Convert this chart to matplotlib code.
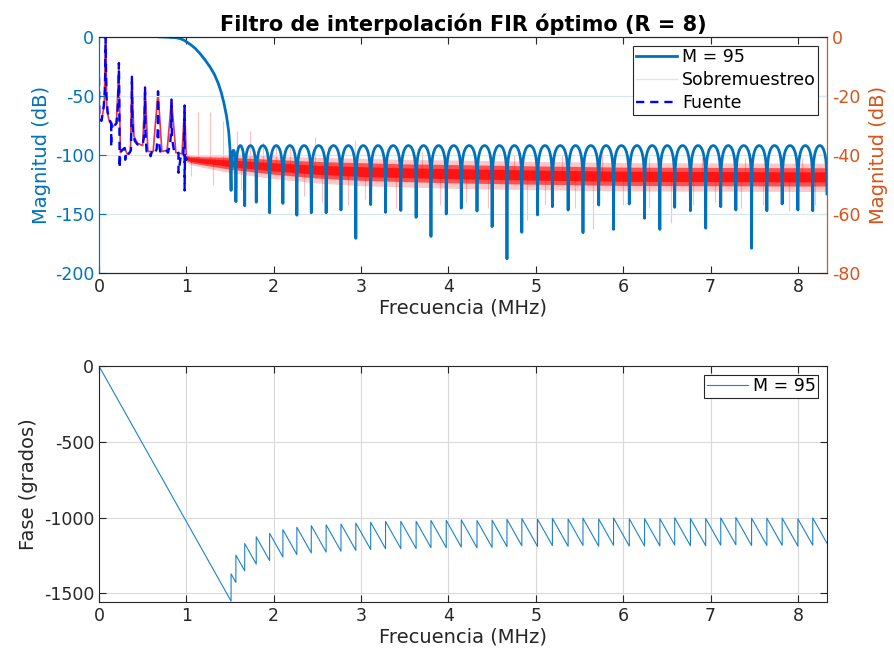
import numpy as np
import matplotlib
matplotlib.use("Agg")
import matplotlib.pyplot as plt
from matplotlib.lines import Line2D

plt.rcParams['font.family'] = 'DejaVu Sans'
plt.rcParams['axes.unicode_minus'] = False

BLUE = '#0072BD'
ORANGE = '#D95319'
GRAY = '#262626'

# --- filter magnitude (M = 95), dB -------------------------------------
# passband ripple sits just above 0 dB, then the transition band
pass_f = [0.0, 0.3, 0.6, 0.68, 0.80, 0.88, 0.93, 0.97, 1.00, 1.05, 1.10, 1.154,
          1.21, 1.268, 1.32, 1.364, 1.40, 1.43, 1.46, 1.485, 1.50, 1.512]
pass_db = [1.5, 1.5, 1.2, 0.2, -0.2, -0.6, -1.3, -2.6, -4.0, -6.5, -9.5, -13.8,
           -19.0, -25.0, -31.5, -39.0, -47.0, -56.0, -67.0, -80.0, -95.0, -130.0]

# stopband nulls (MHz) and their depths (dB)
null_f = [1.512, 1.567, 1.668, 1.80, 1.953, 2.105, 2.265, 2.43, 2.60, 2.77,
          2.94, 3.11, 3.28, 3.455, 3.63, 3.80, 3.975, 4.147, 4.327, 4.50,
          4.67, 4.84, 5.02, 5.19, 5.37, 5.54, 5.72, 5.89, 6.07, 6.245,
          6.42, 6.59, 6.77, 6.945, 7.117, 7.29, 7.47, 7.645, 7.82, 8.00,
          8.17, 8.333]
null_db = [-130.0, -139.5, -143.0, -140.0, -149.0, -141.0, -151.0, -149.0, -149.0, -146.6,
           -170.6, -142.0, -148.6, -147.0, -152.8, -169.0, -150.0, -145.0, -147.5, -160.7,
           -188.0, -165.5, -150.8, -143.8, -146.6, -165.8, -142.4, -163.0, -141.5, -153.6,
           -163.0, -144.3, -147.2, -162.0, -143.8, -146.6, -179.0, -147.2, -141.5, -146.6,
           -147.2, -133.0]
# ripple level of each stopband lobe
lobe_peak = [-96.0] + [-92.0] * (len(null_f) - 2)

# --- source spectrum (Fuente), dB on the left axis ---------------------
fuente_f = [0.0, 0.004, 0.03, 0.055, 0.068, 0.074, 0.076, 0.078, 0.085, 0.10,
            0.12, 0.14, 0.14, 0.14, 0.17, 0.20, 0.215, 0.224, 0.228, 0.232,
            0.235, 0.235, 0.245, 0.26, 0.28, 0.295, 0.30, 0.30, 0.31, 0.325,
            0.35, 0.365, 0.373, 0.377, 0.381, 0.39, 0.41, 0.44, 0.47, 0.50,
            0.515, 0.523, 0.527, 0.531, 0.545, 0.57, 0.59, 0.59, 0.61, 0.64,
            0.66, 0.672, 0.676, 0.68, 0.70, 0.73, 0.76, 0.79, 0.815, 0.826,
            0.83, 0.834, 0.86, 0.89, 0.91, 0.91, 0.94, 0.965, 0.976, 0.98,
            0.98, 0.984, 0.99, 1.0, 1.02]
fuente_db = [-34, -70, -71, -58, -45, -15, 0, -15, -50, -64,
             -70, -73, -93, -73, -76, -73, -60, -40, -22, -50,
             -90, -111, -98, -96, -95, -94, -97, -104, -98, -100,
             -98, -96, -70, -33, -70, -82, -88, -91, -91.5, -91,
             -85, -70, -42, -80, -97, -98, -97, -101, -96, -98,
             -95, -80, -46, -85, -97, -96, -95, -98, -90, -80,
             -53, -85, -97, -99, -98, -115, -99, -100, -85, -58,
             -130, -100, -104, -103, -105]

# --- oversampled signal (Sobremuestreo), dB on the right axis ----------
sobre_lo_f = [0.0, 0.004, 0.03, 0.06, 0.076, 0.09, 0.12, 0.16, 0.20, 0.228,
              0.245, 0.27, 0.29, 0.31, 0.33, 0.36, 0.377, 0.40, 0.44, 0.50,
              0.527, 0.56, 0.62, 0.676, 0.72, 0.78, 0.83, 0.88, 0.95, 0.98, 1.0]
sobre_lo_db = [-13.6, -28.0, -28.0, -23.2, 0.0, -24.8, -28.8, -30.4, -29.2, -8.8,
               -39.2, -38.4, -37.6, -38.8, -40.0, -38.8, -13.2, -33.6, -36.0, -36.8,
               -16.8, -38.8, -38.8, -18.4, -38.8, -38.4, -21.2, -39.2, -39.6, -23.2, -41.6]
# noise floor above 1 MHz: centre and spread
band_f = [1.0, 1.05, 1.2, 1.5, 2.0, 2.5, 3.0, 3.5, 4.0, 5.0, 6.0, 7.0, 8.0, 8.333]
band_mid = [-41.0, -41.5, -42.0, -42.8, -44.0, -45.0, -45.6, -46.0, -46.3, -46.8,
            -47.2, -47.3, -47.4, -47.4]
band_half = [0.9, 1.1, 1.4, 2.0, 2.5, 2.8, 3.0, 3.0, 3.1, 3.1, 3.1, 3.1, 3.1, 3.1]
# isolated image tones and dips poking out of the noise floor
spike_up_f = [1.134, 1.276, 1.42, 1.575, 1.727, 1.88, 2.03, 2.19, 2.47, 2.62,
              2.93, 3.3, 3.7, 4.3, 4.75, 5.3, 5.76, 6.3, 6.9, 7.4, 8.05]
spike_up_db = [-25.3, -25.3, -28.6, -32.0, -32.0, -35.5, -37.0, -36.0, -33.8, -37.0,
               -35.0, -39.0, -39.0, -38.5, -40.0, -40.0, -38.8, -40.5, -40.5, -41.0, -41.0]
spike_dn_f = [1.05, 1.3, 1.62, 2.1, 2.35, 2.55, 2.85, 3.05, 3.4, 3.62, 3.9, 4.2, 4.45,
              4.9, 5.1, 5.45, 5.65, 6.0, 6.3, 6.55, 6.8, 7.05, 7.35, 7.6, 7.9, 8.2]
spike_dn_db = [-47, -50, -52, -55, -54, -56, -57, -55, -58, -56, -57, -56, -58,
               -62, -57, -58, -65, -57, -58, -63, -57, -56, -58, -57, -59, -57]

# --- phase: linear phase of the 95th order filter, 180 deg jumps at zeros
phase_slope = -1026.0   # deg / MHz
phase_jump = 180.0
F_NYQ = 8.333

# build the magnitude curve: transition band, then one arch per lobe
mag_f = list(pass_f)
mag_db = list(pass_db)
for i in range(len(null_f) - 1):
    f0, f1 = null_f[i], null_f[i + 1]
    t = np.linspace(0, 1, 60)[1:]
    with np.errstate(divide='ignore'):
        y = lobe_peak[i] + 20 * np.log10(np.abs(np.sin(np.pi * t)))
    y[-1] = null_db[i + 1]
    mag_f.extend(f0 + t * (f1 - f0))
    mag_db.extend(y)

# unwrapped phase with the sign flips at each stopband zero
ph_f = [0.0]
ph_deg = [0.0]
k = 0
for fn in null_f:
    if fn >= F_NYQ:
        break
    ph_f += [fn, fn]
    ph_deg += [phase_slope * fn + phase_jump * k, phase_slope * fn + phase_jump * (k + 1)]
    k += 1
ph_f.append(F_NYQ)
ph_deg.append(phase_slope * F_NYQ + phase_jump * k)

fig = plt.figure(figsize=(8.95, 6.59), dpi=100)
ax = fig.add_axes([0.1106, 0.5857, 0.8134, 0.3581])
ax2 = ax.twinx()
ax.set_zorder(ax2.get_zorder() + 1)
ax.patch.set_visible(False)

# oversampled spectrum on the right axis (drawn underneath)
bm = np.array(band_mid)
bh = np.array(band_half)
ax2.fill_between(band_f, bm - 1.6 * bh, bm + 1.5 * bh, color='#FF0000', alpha=0.22, lw=0)
ax2.fill_between(band_f, bm - bh, bm + bh, color='#FF0000', alpha=0.6, lw=0)
ax2.fill_between(band_f, bm - 0.55 * bh, bm + 0.55 * bh, color='#FF0000', alpha=0.75, lw=0)
ax2.vlines(spike_up_f, np.interp(spike_up_f, band_f, band_mid), spike_up_db,
           color='#FF0000', alpha=0.25, lw=0.8)
ax2.vlines(spike_dn_f, np.interp(spike_dn_f, band_f, band_mid), spike_dn_db,
           color='#FF0000', alpha=0.25, lw=0.8)
ax2.plot(sobre_lo_f, sobre_lo_db, color='#E0102A', lw=1.2, alpha=0.85)

# filter response and source on the left axis
ax.plot(mag_f, mag_db, color=BLUE, lw=2.0)
ax.plot(fuente_f, fuente_db, color='#0000FF', lw=1.7, ls=(0, (3.5, 2.5)))

ax.set_xlim(0, F_NYQ)
ax.set_ylim(-200, 0)
ax2.set_ylim(-80, 0)
ax.set_yticks([-200, -150, -100, -50, 0])
ax2.set_yticks([-80, -60, -40, -20, 0])
ax.set_xticks(range(0, 9))

ax2.grid(True, axis='x', color='#DADADA', lw=0.8)
ax2.set_xticks(range(0, 9))
ax.grid(True, axis='y', color='#D6E6F2', lw=0.8)
ax.set_axisbelow(True)

ax.tick_params(axis='x', direction='in', top=True, colors=GRAY, labelsize=12.5, length=5)
ax.tick_params(axis='y', direction='in', colors=BLUE, labelsize=12.5, length=5)
ax2.tick_params(axis='y', direction='in', colors=ORANGE, labelsize=12.5, length=5)
ax2.tick_params(axis='x', length=0)
ax.spines['left'].set_color(BLUE)
ax.spines['right'].set_color(ORANGE)
ax2.spines['left'].set_color(BLUE)
ax2.spines['right'].set_color(ORANGE)
for s in ('top', 'bottom'):
    ax.spines[s].set_color(GRAY)
    ax2.spines[s].set_color(GRAY)

ax.set_xlabel('Frecuencia (MHz)', fontsize=14, color=GRAY, labelpad=2)
ax.set_ylabel('Magnitud (dB)', fontsize=14, color=BLUE, labelpad=3)
ax2.set_ylabel('Magnitud (dB)', fontsize=14, color=ORANGE, labelpad=6)
ax.set_title('Filtro de interpolación FIR óptimo (R = 8)', fontsize=15,
             fontweight='bold', pad=4)

handles = [Line2D([], [], color=BLUE, lw=2.0),
           Line2D([], [], color='#FF0000', lw=1.0, alpha=0.15),
           Line2D([], [], color='#0000FF', lw=1.7, ls=(0, (3.5, 2.5)))]
leg = ax.legend(handles, ['M = 95', 'Sobremuestreo', 'Fuente'], loc='upper right',
                fontsize=12.5, fancybox=False, framealpha=1, edgecolor=GRAY,
                borderpad=0.15, labelspacing=0.28, handlelength=2.4, handletextpad=0.25,
                borderaxespad=0.5)
leg.get_frame().set_linewidth(0.8)

# phase response
bx = fig.add_axes([0.1106, 0.0865, 0.8134, 0.358])
bx.plot(ph_f, ph_deg, color='#1F82C8', lw=0.8, label='M = 95')
bx.set_xlim(0, F_NYQ)
bx.set_ylim(-1557, 0)
bx.set_xticks(range(0, 9))
bx.set_yticks([-1500, -1000, -500, 0])
bx.grid(True, color='#DADADA', lw=0.8)
bx.set_axisbelow(True)
bx.tick_params(direction='in', top=True, right=True, colors=GRAY, labelsize=12.5, length=5)
for s in bx.spines.values():
    s.set_color(GRAY)
bx.set_xlabel('Frecuencia (MHz)', fontsize=14, color=GRAY, labelpad=2)
bx.set_ylabel('Fase (grados)', fontsize=14, color=GRAY, labelpad=4)
leg2 = bx.legend(loc='upper right', fontsize=12.5, fancybox=False, framealpha=1,
                 edgecolor=GRAY, borderpad=0.15, handlelength=2.4, handletextpad=0.25,
                 borderaxespad=0.5)
leg2.get_frame().set_linewidth(0.8)

fig.savefig('out.png', dpi=100)
